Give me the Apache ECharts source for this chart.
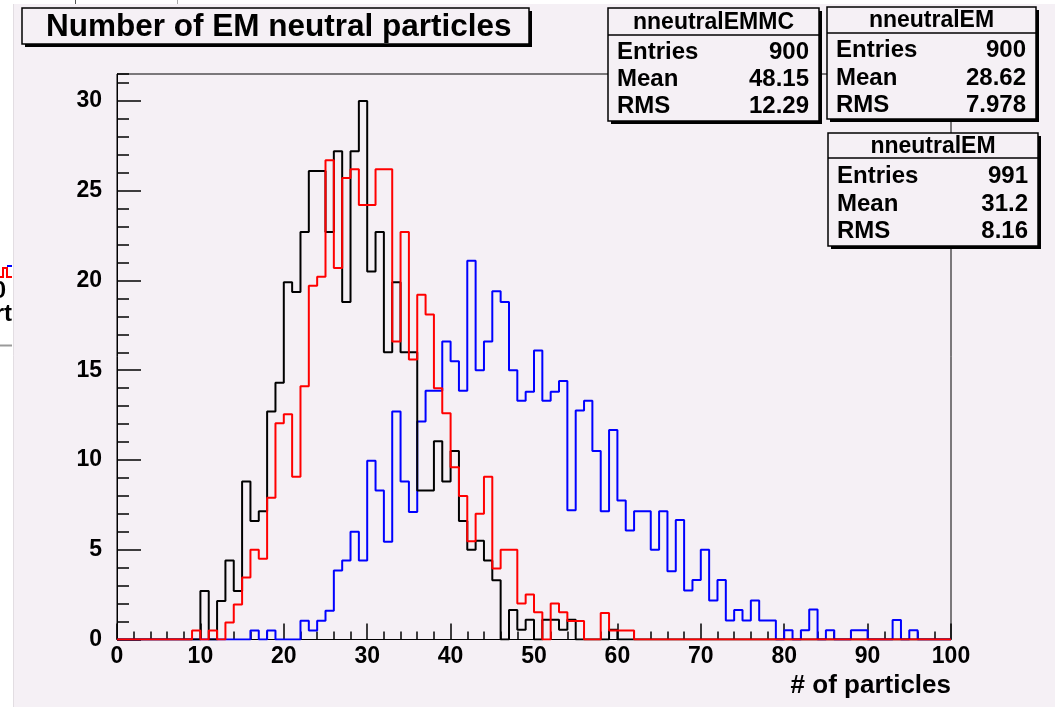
<!DOCTYPE html>
<html>
<head>
<meta charset="utf-8">
<title>Number of EM neutral particles</title>
<script src="https://cdn.jsdelivr.net/npm/echarts@6/dist/echarts.min.js"></script>
<style>
  html, body { margin: 0; padding: 0; background: #ffffff; }
  #chart { width: 1055px; height: 707px; }
</style>
</head>
<body>
<div id="chart"></div>
<script>
// Bin contents, one value per unit-wide bin from 0 to 100.
const countsEMMC = [ // blue, nneutralEMMC
  0, 0, 0, 0, 0, 0, 0, 0, 0, 0,
  0, 0, 0, 0, 0, 0, 0.5, 0, 0.5, 0,
  0, 0, 1.05, 0.5, 1.05, 1.6, 3.85, 4.4, 6.0, 4.4,
  9.96, 8.3, 5.44, 12.7, 8.8, 7.1, 12.15, 13.85, 13.85, 16.6,
  15.5, 13.85, 21.1, 15.0, 16.6, 19.4, 18.8, 15.0, 13.3, 13.8,
  16.1, 13.3, 13.8, 14.4, 7.2, 12.75, 13.3, 10.5, 7.14, 11.67,
  7.74, 6.07, 7.14, 7.14, 5.0, 7.14, 3.8, 6.66, 2.73, 3.32,
  5.0, 2.17, 3.32, 1.06, 1.65, 1.06, 2.17, 1.06, 1.06, 0,
  0.52, 0, 0.52, 1.67, 0, 0.52, 0, 0, 0.52, 0.52,
  0, 0, 0, 1.08, 0, 0.52, 0, 0, 0, 0
];
const countsEM = [ // black, nneutralEM (900 entries)
  0, 0, 0, 0, 0, 0, 0, 0, 0, 0,
  2.7, 0, 2.15, 4.4, 2.7, 8.8, 6.6, 7.15, 12.7, 14.3,
  19.9, 19.35, 22.7, 26.1, 26.1, 22.7, 27.2, 18.8, 27.2, 30.0,
  20.5, 22.7, 16.0, 19.9, 16.0, 16.0, 8.3, 8.3, 11.05, 8.8,
  10.5, 6.6, 5.0, 5.5, 4.4, 3.3, 0, 1.65, 0.55, 1.1,
  0, 1.1, 1.1, 0.55, 1.1, 0, 0, 0, 0, 0.55,
  0, 0, 0, 0, 0, 0, 0, 0, 0, 0,
  0, 0, 0, 0, 0, 0, 0, 0, 0, 0,
  0, 0, 0, 0, 0, 0, 0, 0, 0, 0,
  0, 0, 0, 0, 0, 0, 0, 0, 0, 0
];
const countsEM991 = [ // red, nneutralEM (991 entries)
  0, 0, 0, 0, 0, 0, 0, 0, 0, 0.5,
  0, 0.5, 0, 0.95, 1.95, 3.45, 5.0, 4.5, 7.9, 12.05,
  12.55, 9.06, 14.1, 19.7, 20.2, 26.7, 20.7, 25.7, 26.2, 24.2,
  24.2, 26.2, 26.2, 16.6, 22.7, 15.6, 19.2, 18.1, 14.0, 12.6,
  9.6, 8.0, 5.47, 7.0, 9.07, 3.95, 5.0, 5.0, 2.0, 2.5,
  1.52, 0, 2.0, 1.52, 1.03, 1.03, 0, 0, 1.48, 0.5,
  0.5, 0.5, 0, 0, 0, 0, 0, 0, 0, 0,
  0, 0, 0, 0, 0, 0, 0, 0, 0, 0,
  0, 0, 0, 0, 0, 0, 0, 0, 0, 0,
  0, 0, 0, 0, 0, 0, 0, 0, 0, 0
];

// Statistics boxes: [label, value] rows.
const statsEMMC = { title: 'nneutralEMMC', rows: [['Entries', '900'], ['Mean', '48.15'], ['RMS', '12.29']] };
const statsEM = { title: 'nneutralEM', rows: [['Entries', '900'], ['Mean', '28.62'], ['RMS', '7.978']] };
const statsEM991 = { title: 'nneutralEM', rows: [['Entries', '991'], ['Mean', '31.2'], ['RMS', '8.16']] };

const titleText = 'Number of EM neutral particles';
const xTitle = '# of particles';

const X_MIN = 0, X_MAX = 100, Y_MAX = 31.5;

const FONT = '"Liberation Sans", Arial, Helvetica, sans-serif';
const PAD = '#f5f0f5';

// Histogram outline: one point per lower bin edge, stepping at the next edge.
function histData(counts) {
  const pts = counts.map((v, i) => [X_MIN + i, v]);
  pts.push([X_MIN + counts.length, 0]);
  return pts;
}

function histSeries(name, counts, color) {
  return {
    name: name,
    type: 'line',
    step: 'end',
    data: histData(counts),
    symbol: 'none',
    clip: true,
    lineStyle: { color: color, width: 2 },
    itemStyle: { color: color },
    emphasis: { disabled: true },
    animation: false,
    z: 3
  };
}

// Boxed statistics panel with a drop shadow.
function statsBox(x, y, w, h, sepY, rowYs, stats) {
  const children = [
    { type: 'rect', shape: { x: x + 3, y: y + 3, width: w, height: h }, style: { fill: '#000' } },
    { type: 'rect', shape: { x: x, y: y, width: w, height: h }, style: { fill: PAD, stroke: '#000', lineWidth: 1.5 } },
    { type: 'line', shape: { x1: x, y1: sepY, x2: x + w, y2: sepY }, style: { stroke: '#000', lineWidth: 1.5 } },
    { type: 'text', x: x + w / 2, y: (y + sepY) / 2 + 1,
      style: { text: stats.title, font: 'bold 23px ' + FONT, fill: '#000', align: 'center', verticalAlign: 'middle' } }
  ];
  stats.rows.forEach((r, i) => {
    children.push({ type: 'text', x: x + 9, y: rowYs[i],
      style: { text: r[0], font: 'bold 24px ' + FONT, fill: '#000', align: 'left', verticalAlign: 'middle' } });
    children.push({ type: 'text', x: x + w - 10, y: rowYs[i],
      style: { text: r[1], font: 'bold 24px ' + FONT, fill: '#000', align: 'right', verticalAlign: 'middle' } });
  });
  return { type: 'group', z: 100, children: children };
}

const chart = echarts.init(document.getElementById('chart'), null, { renderer: 'canvas' });

const option = {
  animation: false,
  backgroundColor: '#ffffff',
  grid: {
    left: 117, right: 104, top: 74, bottom: 67.5,
    show: true, borderColor: '#000', borderWidth: 1, backgroundColor: 'transparent',
    outerBoundsMode: 'none'
  },
  xAxis: {
    type: 'value', min: X_MIN, max: X_MAX, interval: 10,
    axisLine: { show: true, onZero: false, lineStyle: { color: '#000', width: 1 } },
    axisTick: { show: true, inside: true, length: 16, lineStyle: { color: '#000', width: 1.5 } },
    minorTick: { show: true, splitNumber: 5, length: 8, lineStyle: { color: '#000', width: 1.5 } },
    splitLine: { show: false },
    axisLabel: { show: true, margin: 6, color: '#000', fontFamily: FONT, fontWeight: 'bold', fontSize: 23 }
  },
  yAxis: [
    {
      type: 'value', min: 0, max: Y_MAX, interval: 5, position: 'left',
      axisLine: { show: true, onZero: false, lineStyle: { color: '#000', width: 1 } },
      axisTick: { show: true, inside: true, length: 24, lineStyle: { color: '#000', width: 1.5 } },
      splitLine: { show: false },
      axisLabel: { show: true, margin: 15, showMaxLabel: false, color: '#000', fontFamily: FONT, fontWeight: 'bold', fontSize: 23 }
    },
    {
      // finer ticks every unit
      type: 'value', min: 0, max: Y_MAX, interval: 1, position: 'left', offset: 0,
      axisLine: { show: false },
      axisTick: { show: true, inside: true, length: 12, lineStyle: { color: '#000', width: 1.5 } },
      splitLine: { show: false },
      axisLabel: { show: false }
    }
  ],
  series: [
    histSeries('nneutralEMMC', countsEMMC, '#0000ff'),
    histSeries('nneutralEM', countsEM, '#000000'),
    histSeries('nneutralEM 991', countsEM991, '#ff0000')
  ],
  graphic: [
    // canvas pad
    { type: 'rect', z: -10, silent: true, shape: { x: 13, y: 4, width: 1042, height: 703 }, style: { fill: PAD } },
    { type: 'line', z: -9, silent: true, shape: { x1: 13.5, y1: 4, x2: 13.5, y2: 707 }, style: { stroke: '#e2dde2', lineWidth: 1 } },
    // edge of a neighbouring window on the left
    { type: 'group', z: 50, silent: true, children: [
      { type: 'polyline', shape: { points: [[0, 277], [3, 277], [3, 268], [7, 268], [7, 277], [12, 277]] }, style: { stroke: '#ff0000', lineWidth: 2, fill: null } },
      { type: 'line', shape: { x1: 7, y1: 266, x2: 12, y2: 266 }, style: { stroke: '#0000ff', lineWidth: 2 } },
      { type: 'text', x: 6, y: 291, style: { text: '0', font: 'bold 24px ' + FONT, fill: '#000', align: 'right', verticalAlign: 'middle' } },
      { type: 'text', x: 12, y: 314, style: { text: 'rt', font: 'bold 24px ' + FONT, fill: '#000', align: 'right', verticalAlign: 'middle' } },
      { type: 'line', shape: { x1: 0, y1: 345.5, x2: 12, y2: 345.5 }, style: { stroke: '#9a9a9a', lineWidth: 2 } },
      { type: 'line', shape: { x1: 75.5, y1: 0, x2: 75.5, y2: 4 }, style: { stroke: '#555', lineWidth: 1 } },
      { type: 'line', shape: { x1: 177.5, y1: 0, x2: 177.5, y2: 4 }, style: { stroke: '#aaa', lineWidth: 1 } }
    ] },
    // title box
    { type: 'group', z: 100, children: [
      { type: 'rect', shape: { x: 25, y: 11, width: 507, height: 36 }, style: { fill: '#000' } },
      { type: 'rect', shape: { x: 22, y: 8, width: 507, height: 36 }, style: { fill: PAD, stroke: '#000', lineWidth: 1.5 } },
      { type: 'text', x: 46, y: 27, style: { text: titleText, font: 'bold 31.5px ' + FONT, fill: '#000', align: 'left', verticalAlign: 'middle' } }
    ] },
    statsBox(608, 8, 211, 113, 35, [52, 79, 106], statsEMMC),
    statsBox(827, 7, 209, 112, 33, [50, 78, 105], statsEM),
    statsBox(828, 133, 210, 113, 158, [176, 204, 231], statsEM991),
    // x axis title
    { type: 'text', z: 100, x: 951, y: 686,
      style: { text: xTitle, font: 'bold 26px ' + FONT, fill: '#000', align: 'right', verticalAlign: 'middle' } }
  ]
};

chart.setOption(option);
</script>
</body>
</html>
